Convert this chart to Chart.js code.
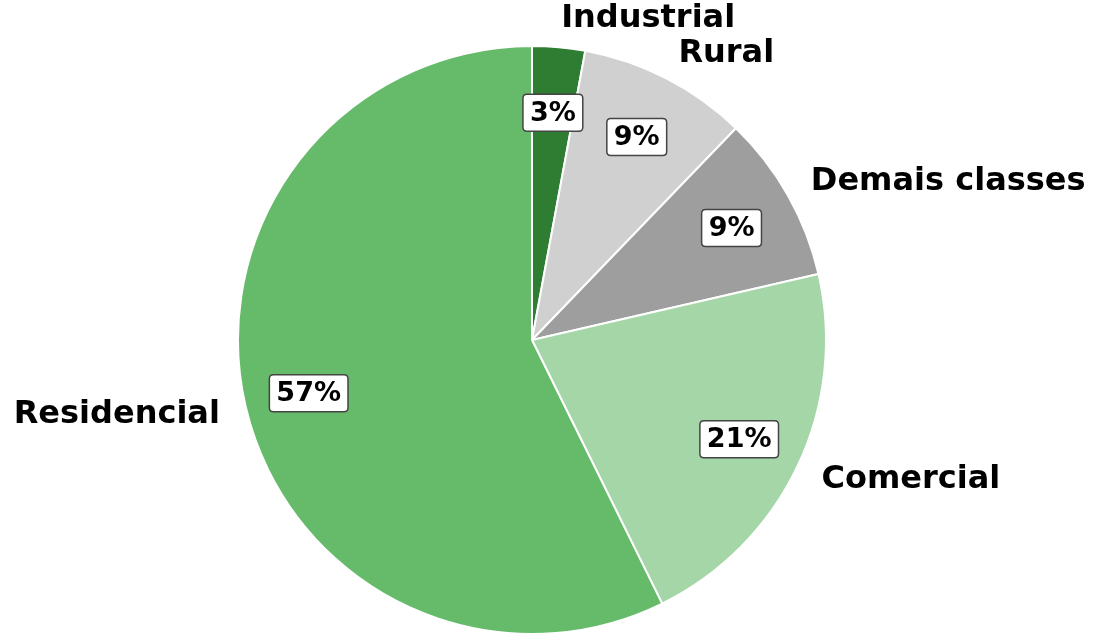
<!DOCTYPE html>
<html>
<head>
<meta charset="utf-8">
<script src="https://cdn.jsdelivr.net/npm/chart.js@4"></script>
<style>
    html, body { margin: 0; padding: 0; background: #ffffff; }
    #wrap { width: 1099px; height: 636px; position: relative; }
</style>
</head>
<body>
<div id="wrap"><canvas id="pieChart"></canvas></div>
<script>
// Data (clockwise from 12 o'clock)
const categories = ['Industrial', 'Rural', 'Demais classes', 'Comercial', 'Residencial'];
const shares = [2.9, 9.3, 9.2, 21.3, 57.3];
const sliceColors = ['#2e7d32', '#d0d0d0', '#9e9e9e', '#a5d6a7', '#66bb6a'];

const labelFont = 'bold 32px "DejaVu Sans"';
const pctFont = 'bold 27px "DejaVu Sans"';

// Helper: rounded box behind percentage text
function roundRect(ctx, x, y, w, h, r) {
    ctx.beginPath();
    ctx.moveTo(x + r, y);
    ctx.lineTo(x + w - r, y);
    ctx.quadraticCurveTo(x + w, y, x + w, y + r);
    ctx.lineTo(x + w, y + h - r);
    ctx.quadraticCurveTo(x + w, y + h, x + w - r, y + h);
    ctx.lineTo(x + r, y + h);
    ctx.quadraticCurveTo(x, y + h, x, y + h - r);
    ctx.lineTo(x, y + r);
    ctx.quadraticCurveTo(x, y, x + r, y);
    ctx.closePath();
}

// Draws category names outside and percentages inside, like matplotlib autopct
const pieLabels = {
    id: 'pieLabels',
    afterDatasetsDraw(chart) {
        const ctx = chart.ctx;
        const meta = chart.getDatasetMeta(0);
        const total = shares.reduce((a, b) => a + b, 0);
        meta.data.forEach((arc, i) => {
            const p = arc.getProps(['x', 'y', 'startAngle', 'endAngle', 'outerRadius']);
            const mid = (p.startAngle + p.endAngle) / 2;
            const cos = Math.cos(mid), sin = Math.sin(mid);

            // category label just outside the rim
            const lx = p.x + cos * p.outerRadius * 1.09;
            const ly = p.y + sin * p.outerRadius * 1.1;
            ctx.save();
            ctx.font = labelFont;
            ctx.fillStyle = '#000000';
            ctx.textAlign = cos >= 0 ? 'left' : 'right';
            ctx.textBaseline = 'middle';
            ctx.fillText(categories[i], lx, ly + 1);

            // percentage in a box at 0.78 r
            const px = p.x + cos * p.outerRadius * 0.78;
            const py = p.y + sin * p.outerRadius * 0.78;
            const txt = Math.round(shares[i] / total * 100) + '%';
            ctx.font = pctFont;
            const w = ctx.measureText(txt).width + 14;
            const h = 37;
            roundRect(ctx, px - w / 2, py - h / 2 + 1, w, h, 4);
            ctx.fillStyle = '#ffffff';
            ctx.fill();
            ctx.lineWidth = 1.5;
            ctx.strokeStyle = '#444444';
            ctx.stroke();
            ctx.fillStyle = '#000000';
            ctx.textAlign = 'center';
            ctx.fillText(txt, px, py + 2);
            ctx.restore();
        });
    }
};

const ctx = document.getElementById('pieChart').getContext('2d');
new Chart(ctx, {
    type: 'pie',
    data: {
        labels: categories,
        datasets: [{
            data: shares,
            backgroundColor: sliceColors,
            borderColor: '#ffffff',
            borderWidth: 2
        }]
    },
    options: {
        responsive: true,
        maintainAspectRatio: false,
        animation: false,
        radius: 294,
        layout: {
            padding: { left: 238, right: 273, top: 46, bottom: 2 }
        },
        plugins: {
            legend: { display: false },
            tooltip: { enabled: false }
        }
    },
    plugins: [pieLabels]
});
</script>
</body>
</html>
